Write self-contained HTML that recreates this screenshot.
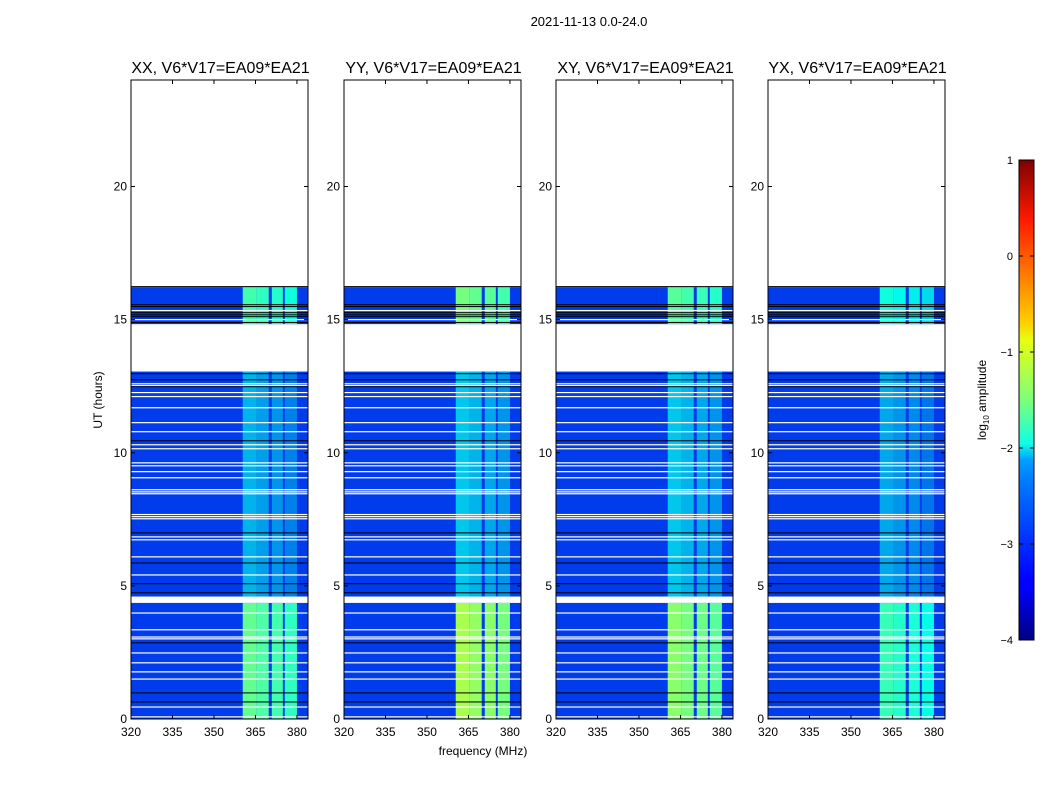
<!DOCTYPE html>
<html><head><meta charset="utf-8"><style>
html,body{margin:0;padding:0;background:#fff;}
svg{display:block;font-family:"Liberation Sans",sans-serif;}
</style></head><body>
<svg id="fig" width="1050" height="800" viewBox="0 0 1050 800" xmlns="http://www.w3.org/2000/svg">
<defs>
<linearGradient id="jet" x1="0" y1="1" x2="0" y2="0">
<stop offset="0" stop-color="#00007f"/><stop offset="0.11" stop-color="#0000ff"/><stop offset="0.125" stop-color="#0000ff"/>
<stop offset="0.34" stop-color="#0080ff"/><stop offset="0.375" stop-color="#00a0ff"/><stop offset="0.41" stop-color="#10ffe6"/>
<stop offset="0.5" stop-color="#7dff7a"/><stop offset="0.625" stop-color="#e6ff10"/><stop offset="0.66" stop-color="#ffd000"/>
<stop offset="0.875" stop-color="#ff1a00"/><stop offset="1" stop-color="#7f0000"/>
</linearGradient>
</defs>
<text x="589" y="26" font-size="13" text-anchor="middle">2021-11-13 0.0-24.0</text>
<g id="panels"></g>
<text x="483" y="755" font-size="12" text-anchor="middle">frequency (MHz)</text>
<text transform="translate(102,400) rotate(-90)" font-size="12" text-anchor="middle">UT (hours)</text>
<g id="cbar">
<rect x="1019" y="160" width="15" height="480" fill="url(#jet)" stroke="#000" stroke-width="1"/>
</g>
<text transform="translate(986,400) rotate(-90)" font-size="12" text-anchor="middle">log<tspan font-size="8" dy="3">10</tspan><tspan dy="-3"> amplitude</tspan></text>
</svg>
<script>
const NS="http://www.w3.org/2000/svg";
const panelTitles=["XX, V6*V17=EA09*EA21","YY, V6*V17=EA09*EA21","XY, V6*V17=EA09*EA21","YX, V6*V17=EA09*EA21"];
const panelLeft=[131,344,556,768];
const xTicks=[320,335,350,365,380];
const yTicks=[0,5,10,15,20];
const cbarTicks=[1,0,-1,-2,-3,-4];
// data segments [startHour,endHour]
const segments=[[0,4.36],[4.6,13.05],[14.83,16.22]];
// base (off-band) log amplitude
const background=-3.08;
// RFI-band edges in MHz and relative offset per band
const bandStart=[360.4,365.5,370.9,375.6];
const bandEnd=[365.5,369.8,374.9,380.0];
const bandOffset=[0.1,0.0,-0.05,-0.15];
// band level per panel per segment
const bandLevel=[[-1.75,-2.6,-1.9],[-1.4,-2.5,-1.65],[-1.55,-2.5,-1.8],[-1.95,-2.65,-2.15]];
// flagged (white) rows, hours
const whiteRows=[0.08,0.45,1.5,1.77,2.11,2.48,3.01,3.08,3.35,3.98,5.41,6.09,6.73,6.84,7.52,7.6,7.68,8.46,8.53,8.61,9.06,9.29,9.51,9.62,10.15,10.3,10.79,11.13,11.69,12.11,12.26,12.52,12.59,15.0,15.34];
// dark rows, hours
const blackRows=[0.64,0.98,2.86,4.74,5.08,5.86,6.99,10.45,12.48,12.74,12.97,14.89,15.11,15.18,15.26,15.49,15.56,16.24];
const W=177,Y0=719,Y1=80;
function yPix(h){return Y0-(Y0-Y1)*h/24;}
function xPix(p,f){return panelLeft[p]+(f-320)*(W/64);}
function jet(v){let t=(v+4)/5;t=Math.max(0,Math.min(1,t));
 const r=Math.max(0,Math.min(1,1.5-Math.abs(4*t-3))),g=Math.max(0,Math.min(1,1.5-Math.abs(4*t-2))),b=Math.max(0,Math.min(1,1.5-Math.abs(4*t-1)));
 return `rgb(${Math.round(r*255)},${Math.round(g*255)},${Math.round(b*235)})`;}
const G=document.getElementById('panels');
function mk(tag,attrs,parent){const e=document.createElementNS(NS,tag);for(const k in attrs)e.setAttribute(k,attrs[k]);(parent||G).appendChild(e);return e;}
for(let p=0;p<4;p++){
 const g=mk('g',{});
 
 
 const L=panelLeft[p];
 segments.forEach((s,si)=>{
  const r=mk('rect',{x:L,y:yPix(s[1]),width:W,height:yPix(s[0])-yPix(s[1]),fill:jet(background)},g);
  
  
  for(let b=0;b<bandStart.length;b++){
   const x0=xPix(p,bandStart[b]),x1=xPix(p,bandEnd[b]);
   const c=mk('rect',{x:x0,y:yPix(s[1]),width:x1-x0,height:yPix(s[0])-yPix(s[1]),fill:jet(bandLevel[p][si]+bandOffset[b])},g);
   
   
  }
 });
 whiteRows.forEach(h=>{const l=mk('rect',{x:L,y:yPix(h)-0.6,width:W,height:1.2,fill:'#fff'},g);
  
  });
 blackRows.forEach(h=>{const l=mk('rect',{x:L,y:yPix(h)-0.5,width:W,height:1,fill:'#000'},g);
  
  });
 const fr=mk('rect',{x:L,y:Y1,width:W,height:Y0-Y1,fill:'none',stroke:'#000','stroke-width':1},g);
 
 
 const t=mk('text',{x:L+W/2+1,y:73,'font-size':16,'text-anchor':'middle'},g);t.textContent=panelTitles[p];
 
 
 xTicks.forEach(v=>{const x=xPix(p,v);
  mk('line',{x1:x,x2:x,y1:Y0,y2:Y0-4,stroke:'#000'},g);mk('line',{x1:x,x2:x,y1:Y1,y2:Y1+4,stroke:'#000'},g);
  const tl=mk('text',{x:x,y:Y0+17,'font-size':12,'text-anchor':'middle'},g);tl.textContent=v;
  
  });
 yTicks.forEach(v=>{const y=yPix(v);
  mk('line',{x1:L,x2:L+4,y1:y,y2:y,stroke:'#000'},g);mk('line',{x1:L+W,x2:L+W-4,y1:y,y2:y,stroke:'#000'},g);
  const tl=mk('text',{x:L-4,y:y+4,'font-size':12,'text-anchor':'end'},g);tl.textContent=v;
  
  });
}
const CB=document.getElementById('cbar');
cbarTicks.forEach(v=>{const y=640-(v+4)*96;
 mk('line',{x1:1019,x2:1023,y1:y,y2:y,stroke:'#000'},CB);mk('line',{x1:1034,x2:1030,y1:y,y2:y,stroke:'#000'},CB);
 const tl=mk('text',{x:1013,y:y+4,'font-size':11,'text-anchor':'end'},CB);tl.textContent=v<0?'\u2212'+(-v):v;
 
 });
</script>
</body></html>
